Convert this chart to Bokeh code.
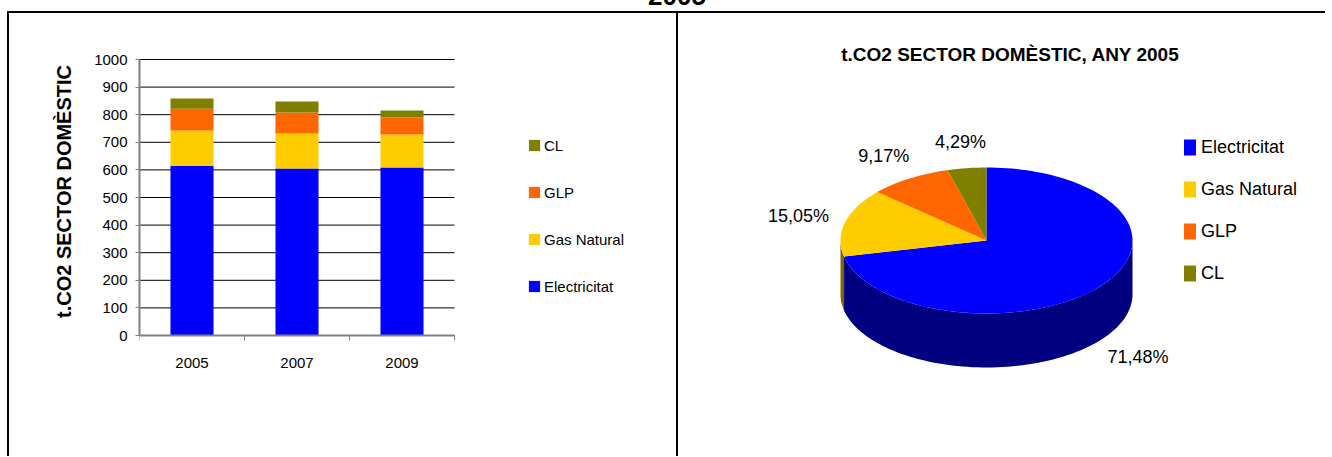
import math
from bokeh.plotting import figure
from bokeh.models import (Range1d, FixedTicker, Legend, LegendItem, Label, Div,
                          ColumnDataSource)
from bokeh.layouts import row, column
from bokeh.core.properties import value
from bokeh.embed import file_html
from bokeh.resources import INLINE

# ---------------- data ----------------
years = ["2005", "2007", "2009"]
electricitat = [614, 605, 609]
gas_natural = [129, 127, 119]
glp = [79, 76, 62]
cl = [37, 40, 25]
series_names = ["Electricitat", "Gas Natural", "GLP", "CL"]
series_colors = ["#0000FF", "#FFCC00", "#FF6600", "#808000"]
side_colors = ["#000080", "#806600", "#803300", "#404000"]
y_ticks = [0, 100, 200, 300, 400, 500, 600, 700, 800, 900, 1000]
pie_shares = [71.48, 15.05, 9.17, 4.29]
y_label = "t.CO2 SECTOR DOMÈSTIC"
pie_title = "t.CO2 SECTOR DOMÈSTIC, ANY 2005"
page_title = "2005"

FONT = "Liberation Sans"
H = 443          # height of both figures
LW = 667         # bar figure width
RW = 652         # pie figure width
TOP_B, BOT_B = 0, 87             # shared borders (row aligns frames)
FT, FB = TOP_B, H - BOT_B        # frame top / bottom in figure pixels

# bar-chart pixel layout (inside its figure)
AX_LEFT = 130                    # y axis position
AX_Y0, AX_Y1000 = 322, 46        # pixel rows of 0 and 1000
CAT_W = 105                      # pixels per category

# ---------------- bar chart ----------------
px_per = (AX_Y0 - AX_Y1000) / 1000.0
y_start = -(FB - AX_Y0) / px_per
y_end = 1000 + (AX_Y1000 - FT) / px_per
x_end = (LW - AX_LEFT) / CAT_W

xs = [i + 0.5 for i in range(len(years))]
src = ColumnDataSource(dict(x=xs, Electricitat=electricitat, **{"Gas Natural": gas_natural},
                            GLP=glp, CL=cl))
bar = figure(width=LW, height=H, x_range=Range1d(0, x_end), y_range=Range1d(y_start, y_end),
             output_backend="svg", toolbar_location=None, title_location=None,
             min_border_left=AX_LEFT, min_border_right=0,
             min_border_top=TOP_B, min_border_bottom=BOT_B)
bar.outline_line_color = None
bar.background_fill_color = "white"
bar.border_fill_color = "white"
bar.grid.visible = False

# horizontal gridlines at the tick values, across the category span
bar.segment(x0=[0] * len(y_ticks), x1=[len(years)] * len(y_ticks), y0=y_ticks, y1=y_ticks,
            line_color="black", line_width=1)

rs = bar.vbar_stack(series_names, x="x", width=0.41, source=src,
                    fill_color=series_colors, line_color=None)

yax = bar.yaxis[0]
yax.ticker = FixedTicker(ticks=y_ticks, minor_ticks=[])
yax.bounds = (0, 1000)
yax.axis_line_color = "#808080"
yax.axis_line_width = 2
yax.major_tick_line_color = "#808080"
yax.major_tick_out = 4
yax.major_tick_in = 0
yax.minor_tick_line_color = None
yax.major_label_text_font = FONT
yax.major_label_text_font_size = "15px"
yax.major_label_text_color = "black"
yax.major_label_standoff = 8
yax.axis_label = y_label
yax.axis_label_text_font = FONT
yax.axis_label_text_font_size = "20px"
yax.axis_label_text_font_style = "bold"
yax.axis_label_text_color = "black"
yax.axis_label_standoff = 16

xax = bar.xaxis[0]
xax.fixed_location = 0
xax.bounds = (0, len(years))
xax.ticker = FixedTicker(ticks=xs, minor_ticks=list(range(len(years) + 1)))
xax.major_label_overrides = {x: y for x, y in zip(xs, years)}
xax.axis_line_color = "#808080"
xax.axis_line_width = 2
xax.major_tick_line_color = None
xax.major_tick_out = 0
xax.major_tick_in = 0
xax.minor_tick_line_color = "#808080"
xax.minor_tick_out = 5
xax.minor_tick_in = 0
xax.major_label_text_font = FONT
xax.major_label_text_font_size = "15px"
xax.major_label_text_color = "black"
xax.major_label_standoff = 17

# legend (inside the frame, to the right of the bars)
L_LABEL_H, L_PITCH = 18, 47
l_height = 4 * L_LABEL_H + 3 * (L_PITCH - L_LABEL_H)
bar_legend = Legend(items=[LegendItem(label=n, renderers=[r])
                           for n, r in reversed(list(zip(series_names, rs)))],
                    location=(388, (FB - 123) - l_height),
                    glyph_width=14, glyph_height=14, label_height=L_LABEL_H, label_standoff=3,
                    spacing=L_PITCH - L_LABEL_H, padding=0, margin=0, border_line_color=None,
                    background_fill_alpha=0, label_text_font=FONT,
                    label_text_font_size="15px", label_text_color="black")
bar.add_layout(bar_legend)

# ---------------- 3D pie ----------------
pie = figure(width=RW, height=H, x_range=Range1d(0, RW), y_range=Range1d(FB, FT),
             x_axis_type=None, y_axis_type=None, title_location=None,
             min_border_left=0, min_border_right=0,
             min_border_top=TOP_B, min_border_bottom=BOT_B,
             output_backend="svg", toolbar_location=None)
pie.outline_line_color = None
pie.grid.visible = False
pie.background_fill_color = "white"
pie.border_fill_color = "white"

cx, cy, rx, ry, depth = 308, 227, 146, 73, 54

def pt(a, dy=0.0):
    r = math.radians(a)
    return cx + rx * math.cos(r), cy - ry * math.sin(r) + dy

def arc(a0, a1, dy=0.0):
    n = max(2, int(abs(a1 - a0) / 2) + 2)
    return [pt(a0 + (a1 - a0) * k / (n - 1), dy) for k in range(n)]

total = sum(pie_shares)
starts, ends = [], []
a = 90.0
for s in pie_shares:
    starts.append(a)
    a -= s / total * 360.0
    ends.append(a)

side_x, side_y, side_c = [], [], []
for s0, s1, c in zip(starts, ends, side_colors):
    lo, hi = s1, s0
    for k in (-2, -1, 0, 1):
        f0, f1 = -180 + 360 * k, 360 * k
        a0, a1 = max(lo, f0), min(hi, f1)
        if a1 - a0 > 0.01:
            poly = arc(a0, a1) + arc(a1, a0, depth)
            side_x.append([p[0] for p in poly])
            side_y.append([p[1] for p in poly])
            side_c.append(c)
pie.patches("xs", "ys", fill_color="c", line_color=None,
            source=ColumnDataSource(dict(xs=side_x, ys=side_y, c=side_c)))

top_x, top_y = [], []
for s0, s1 in zip(starts, ends):
    poly = [(cx, cy)] + arc(s0, s1)
    top_x.append([p[0] for p in poly])
    top_y.append([p[1] for p in poly])
top_r = pie.patches("xs", "ys", fill_color="c", line_color=None,
                    source=ColumnDataSource(dict(xs=top_x, ys=top_y, c=series_colors)))

lab_x, lab_y, lab_t = [], [], []
for s0, s1, s in zip(starts, ends, pie_shares):
    m = math.radians((s0 + s1) / 2)
    lab_x.append(cx + 1.33 * rx * math.cos(m))
    lab_y.append(cy - 1.36 * ry * math.sin(m) + (depth if math.sin(m) < 0 else 0))
    lab_t.append(f"{s:.2f}".replace(".", ",") + "%")
pie.text(x=lab_x, y=lab_y, text=lab_t, text_align="center", text_baseline="middle",
         text_font=value(FONT), text_font_size="18px", text_color="black")

pie.add_layout(Label(x=332, y=41, text=pie_title, text_align="center", text_baseline="middle",
                     text_font=FONT, text_font_size="19px", text_font_style="bold",
                     text_color="black"))

R_LABEL_H, R_PITCH = 22, 42
r_height = 4 * R_LABEL_H + 3 * (R_PITCH - R_LABEL_H)
pie_legend = Legend(items=[LegendItem(label=n, renderers=[top_r], index=i)
                           for i, n in enumerate(series_names)],
                    location=(504, (FB - 123) - r_height),
                    glyph_width=15, glyph_height=20, label_height=R_LABEL_H, label_standoff=4,
                    spacing=R_PITCH - R_LABEL_H, padding=0, margin=0, border_line_color=None,
                    background_fill_alpha=0, label_text_font=FONT,
                    label_text_font_size="18px", label_text_color="black")
pie.add_layout(pie_legend)

# ---------------- frame & layout ----------------
head = Div(text=('<div style="position:absolute;left:637px;top:-17px;width:80px;'
                 'text-align:center;font:bold 26px \'Liberation Sans\';line-height:26px;">'
                 + page_title + '</div>'),
           width=1320, height=11, margin=0, styles={"overflow": "visible"})
gap_top = Div(text="", width=7, height=2, margin=0)
hline = Div(text="", width=1318, height=2, margin=0, styles={"background-color": "black"})
gap_left = Div(text="", width=7, height=H, margin=0)
vline_l = Div(text="", width=2, height=H, margin=0, styles={"background-color": "black"})
vline_m = Div(text="", width=2, height=H, margin=0, styles={"background-color": "black"})

layout = column(head, row(gap_top, hline, spacing=0),
                row(gap_left, vline_l, bar, vline_m, pie, spacing=0), spacing=0)

open("out.html", "w").write(file_html(layout, INLINE))
